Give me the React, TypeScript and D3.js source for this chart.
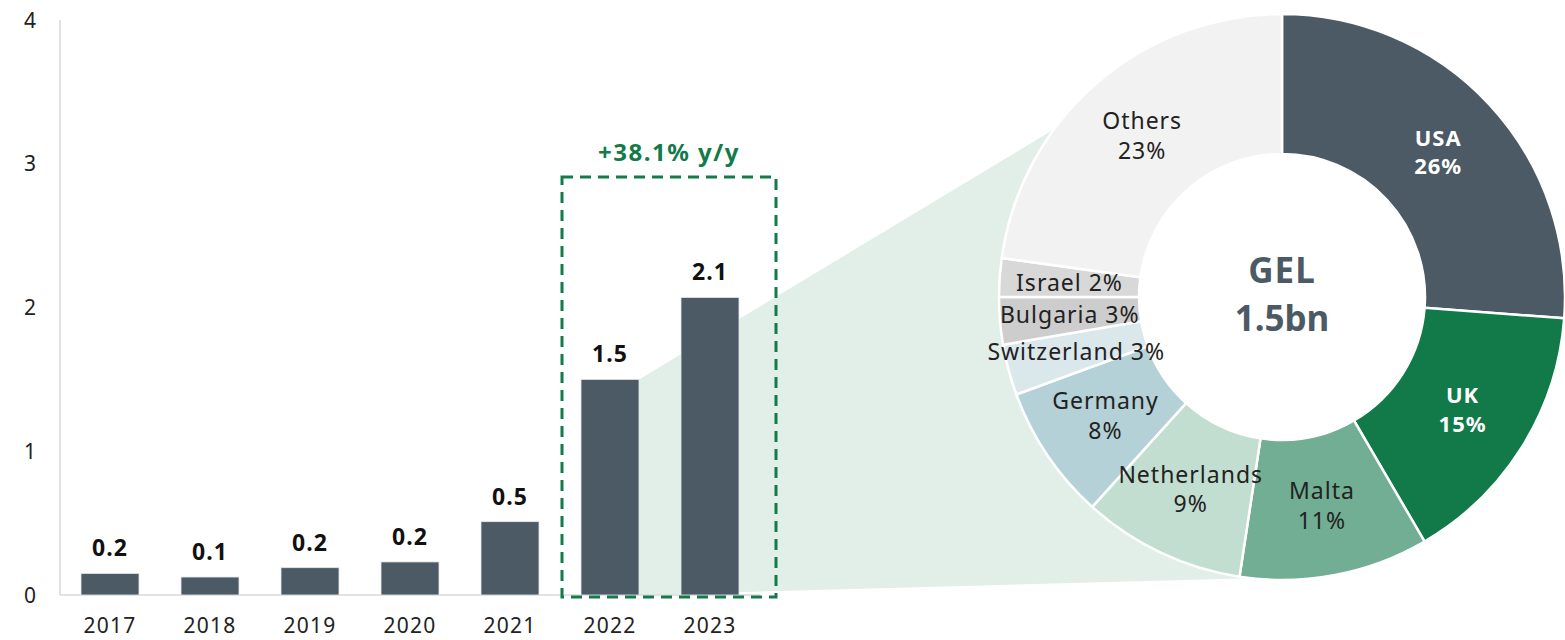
import React from 'react';
import * as d3 from 'd3';

const years = ['2017', '2018', '2019', '2020', '2021', '2022', '2023'];
const barValues = [0.15, 0.125, 0.19, 0.23, 0.51, 1.5, 2.07];
const barLabels = ['0.2', '0.1', '0.2', '0.2', '0.5', '1.5', '2.1'];
const yTicks = [0, 1, 2, 3, 4];

const countries = ['USA', 'UK', 'Malta', 'Netherlands', 'Germany', 'Switzerland', 'Bulgaria', 'Israel', 'Others'];
const shares = [26.2, 15.4, 10.8, 9.3, 7.7, 2.9, 2.7, 2.2, 22.8];
const sliceColors = ['#4b5a64', '#117a48', '#71ae93', '#c1ded0', '#b3d1d6', '#dae8ec', '#cdcdcd', '#d8d8d8', '#f2f2f2'];
const growthLabel = '+38.1% y/y';
const centerLines = ['GEL', '1.5bn'];

const W = 1565;
const H = 640;
const FONT = "'Noto Sans', sans-serif";

const App: React.FC = () => {
  const x = d3.scaleBand<string>().domain(years).range([60, 760]).paddingInner(0.42).paddingOuter(0.21);
  const y = d3.scaleLinear().domain([0, 4]).range([595, 20]);

  const cx = 1282;
  const cy = 297;
  const rOuter = 283;
  const rInner = 143;

  const pie = d3.pie<number>().sort(null).value(d => d);
  const arcs = pie(shares);
  const arc = d3.arc<d3.PieArcDatum<number>>().innerRadius(rInner).outerRadius(rOuter);

  // connector wedge: from 2022 bar to the donut edge
  const polar = (a: number) => [cx + rOuter * Math.sin(a), cy - rOuter * Math.cos(a)];
  const bx = (x('2022') as number) + x.bandwidth();
  const [tx, ty] = polar((-8.5 * Math.PI) / 180);
  const [btx, bty] = polar(((180 + 6.5) * Math.PI) / 180);
  const shade = `M${bx},${y(barValues[5])}L${tx},${ty}L${btx},${bty}L${bx},${y(0)}Z`;

  const boxX0 = (x('2022') as number) - 19;
  const boxX1 = (x('2023') as number) + x.bandwidth() + 37;

  return (
    <div style={{ position: 'absolute', left: 0, top: 0 }}>
      <svg width={W} height={H} style={{ display: 'block', fontFamily: FONT }}>
        <path d={shade} fill="#e2efe8" />

        {/* axes */}
        <line x1={60} x2={60} y1={y(4)} y2={y(0)} stroke="#d9d9d9" strokeWidth={1.5} />
        <line x1={60} x2={760} y1={y(0)} y2={y(0)} stroke="#d9d9d9" strokeWidth={1.5} />
        {yTicks.map(t => (
          <text key={t} x={30} y={y(t)} dy="0.36em" textAnchor="middle" fontSize={21} fill="#222">
            {t}
          </text>
        ))}

        {/* bars */}
        {years.map((yr, i) => (
          <g key={yr}>
            <rect
              x={x(yr)}
              y={y(barValues[i])}
              width={x.bandwidth()}
              height={y(0) - y(barValues[i])}
              fill="#4b5a64"
              stroke="#e5e8ea"
              strokeWidth={0.8}
            />
            <text
              x={(x(yr) as number) + x.bandwidth() / 2}
              y={y(barValues[i]) - 17}
              textAnchor="middle"
              fontSize={23}
              fontWeight={700}
              letterSpacing={1}
              fill="#111"
            >
              {barLabels[i]}
            </text>
            <text
              x={(x(yr) as number) + x.bandwidth() / 2}
              y={633}
              textAnchor="middle"
              fontSize={21}
              letterSpacing={1.2}
              fill="#222"
            >
              {yr}
            </text>
          </g>
        ))}

        {/* highlight box */}
        <rect
          x={boxX0}
          y={177}
          width={boxX1 - boxX0}
          height={y(0) + 2 - 177}
          fill="none"
          stroke="#137a4a"
          strokeWidth={3}
          strokeDasharray="11 7"
        />
        <text
          x={(boxX0 + boxX1) / 2}
          y={161}
          textAnchor="middle"
          fontSize={24}
          fontWeight={700}
          letterSpacing={1.5}
          fill="#137a4a"
        >
          {growthLabel}
        </text>

        {/* donut */}
        <g transform={`translate(${cx},${cy})`}>
          <circle r={rInner} fill="#fff" />
          {arcs.map((a, i) => (
            <path key={countries[i]} d={arc(a) as string} fill={sliceColors[i]} stroke="#fff" strokeWidth={2.5} />
          ))}
          {arcs.map((a, i) => {
            const [lx, ly] = arc.centroid(a);
            const pct = `${Math.round(shares[i])}%`;
            const light = i < 2;
            const small = shares[i] < 5;
            const common = {
              textAnchor: 'middle' as const,
              fontSize: light ? 22 : 23,
              fontWeight: light ? 700 : 400,
              letterSpacing: 1,
              fill: light ? '#fff' : '#222',
            };
            if (small) {
              return (
                <text key={countries[i]} x={lx} y={ly} dy="0.36em" {...common}>
                  {`${countries[i]} ${pct}`}
                </text>
              );
            }
            return (
              <text key={countries[i]} x={lx} y={ly} {...common}>
                <tspan x={lx} dy="-0.3em">{countries[i]}</tspan>
                <tspan x={lx} dy="1.3em">{pct}</tspan>
              </text>
            );
          })}
          <text x={0} y={-14} textAnchor="middle" fontSize={35} fontWeight={700} letterSpacing={1} fill="#4b5a64">
            {centerLines[0]}
          </text>
          <text x={0} y={34} textAnchor="middle" fontSize={35} fontWeight={700} fill="#4b5a64">
            {centerLines[1]}
          </text>
        </g>
      </svg>
    </div>
  );
};

export default App;
